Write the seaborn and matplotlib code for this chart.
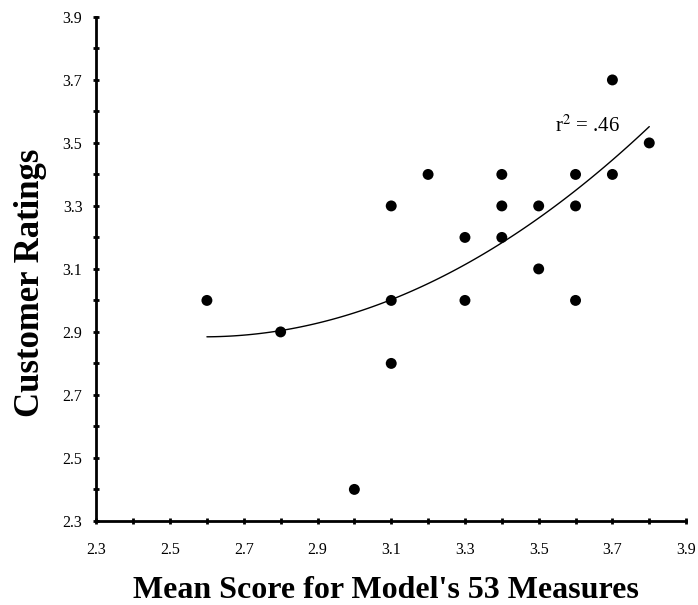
import numpy as np
import pandas as pd
import matplotlib
matplotlib.use('Agg')
import matplotlib.pyplot as plt
from matplotlib.ticker import MultipleLocator
import seaborn as sns

# ── Дані ─────────────────────────────────────────────────────────────────────
mean_score = [2.6, 2.8, 3.0, 3.1, 3.1, 3.1, 3.2, 3.3, 3.3, 3.4, 3.4, 3.4,
              3.5, 3.5, 3.6, 3.6, 3.6, 3.7, 3.7, 3.8]
ratings    = [3.0, 2.9, 2.4, 3.3, 3.0, 2.8, 3.4, 3.2, 3.0, 3.4, 3.3, 3.2,
              3.3, 3.1, 3.4, 3.3, 3.0, 3.7, 3.4, 3.5]
r2_label = 'r$^2$ = .46'
ticks = [2.3, 2.5, 2.7, 2.9, 3.1, 3.3, 3.5, 3.7, 3.9]

df = pd.DataFrame({'score': mean_score, 'rating': ratings})

sns.set_style('white')
plt.rcParams['font.family'] = ['Liberation Serif', 'DejaVu Serif']
plt.rcParams['mathtext.fontset'] = 'stix'
plt.rcParams['text.color'] = 'black'
plt.rcParams['axes.labelcolor'] = 'black'
plt.rcParams['xtick.color'] = 'black'
plt.rcParams['ytick.color'] = 'black'

fig = plt.figure(figsize=(6.98, 6.05), dpi=100)
ax = fig.add_axes([0.138, 0.139, 0.845, 0.833])

sns.regplot(data=df, x='score', y='rating', order=2, ci=None, ax=ax,
            scatter_kws=dict(s=62, color='black', edgecolor='none', alpha=1),
            line_kws=dict(color='black', linewidth=1))

ax.set_xlim(2.3, 3.9)
ax.set_ylim(2.3, 3.9)
ax.set_xticks(ticks)
ax.set_yticks(ticks)
ax.xaxis.set_minor_locator(MultipleLocator(0.1))
ax.yaxis.set_minor_locator(MultipleLocator(0.1))
ax.set_xticklabels([f'{t:.1f}' for t in ticks], fontsize=11.5)
ax.set_yticklabels([f'{t:.1f}' for t in ticks], fontsize=11.5)
ax.tick_params(which='both', bottom=True, left=True, direction='inout',
               length=4, width=2, color='black', labelcolor='black')
ax.tick_params(axis='x', pad=13)
ax.tick_params(axis='y', pad=8)

for side in ['top', 'right']:
    ax.spines[side].set_visible(False)
for side in ['left', 'bottom']:
    ax.spines[side].set_linewidth(2)
    ax.spines[side].set_color('black')

ax.set_xlabel("Mean Score for Model's 53 Measures", fontsize=23,
              fontweight='bold')
ax.set_ylabel('Customer Ratings', fontsize=25, fontweight='bold')
ax.xaxis.set_label_coords(0.491, -0.109)
ax.yaxis.set_label_coords(-0.083, 0.473)

ax.text(3.545, 3.555, r2_label, fontsize=15, ha='left', va='center')

fig.savefig('out.png', dpi=100)
